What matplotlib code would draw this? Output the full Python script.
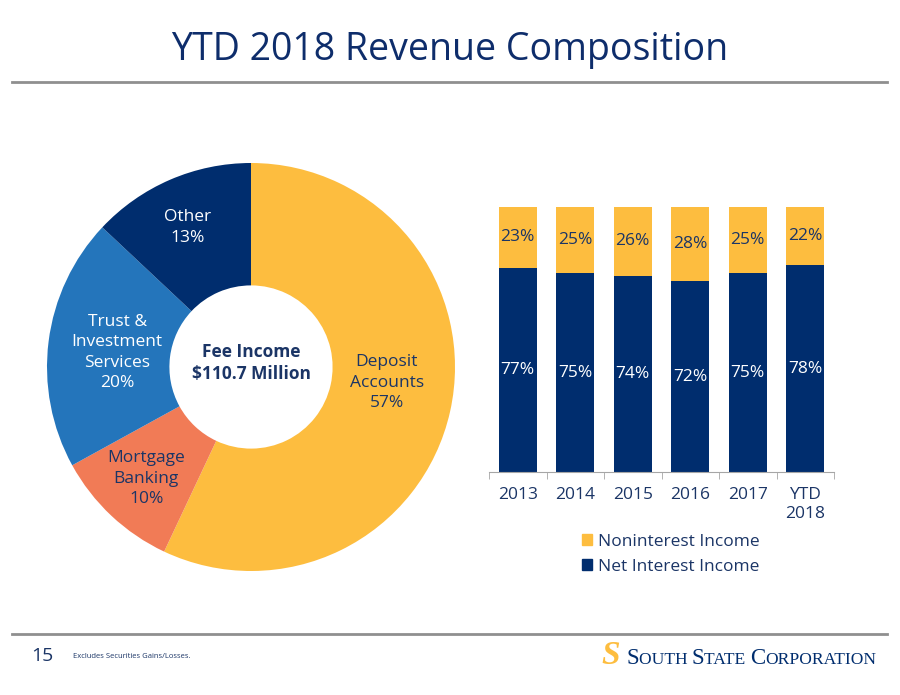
import numpy as np
import matplotlib.pyplot as plt
from matplotlib.patches import Patch

plt.rcParams['font.family'] = ['Open Sans', 'DejaVu Sans']

# fee income split (donut)
fee_labels = ['Deposit\nAccounts\n57%', 'Mortgage\nBanking\n10%',
              'Trust &\nInvestment\nServices\n20%', 'Other\n13%']
fee_values = [57, 10, 20, 13]

# revenue mix by year (stacked bars)
years = ['2013', '2014', '2015', '2016', '2017', 'YTD\n2018']
net_interest = [77, 75, 74, 72, 75, 78]
noninterest = [23, 25, 26, 28, 25, 22]

GOLD = '#FDBD3F'
NAVY = '#002D6E'
BLUE = '#2475BB'
SALMON = '#F17B56'
TXT = '#1B3566'
GRAY = '#8F8F8F'

W, H = 900, 695
fig = plt.figure(figsize=(W / 100, H / 100), dpi=100)


def px(x, y):
    # pixel position (from top-left) to figure fraction
    return x / W, 1 - y / H


# title and rules
fig.text(*px(450, 50), 'YTD 2018 Revenue Composition', ha='center', va='center',
         fontsize=27, color='#0E2D6B')
fig.add_artist(plt.Line2D([12 / W, 887 / W], [1 - 82 / H] * 2, color=GRAY, lw=2))
fig.add_artist(plt.Line2D([12 / W, 887 / W], [1 - 634 / H] * 2, color=GRAY, lw=2))

# donut
cx, cy, r = 251, 367, 204
ax1 = fig.add_axes([(cx - r) / W, (H - cy - r) / H, 2 * r / W, 2 * r / H])
wedges, _ = ax1.pie(fee_values, colors=[GOLD, SALMON, BLUE, NAVY], startangle=90,
                    counterclock=False, radius=1,
                    wedgeprops=dict(width=0.6, edgecolor='none'))
ax1.set_xlim(-1, 1)
ax1.set_ylim(-1, 1)
ax1.set_aspect('equal')
ax1.axis('off')

label_cols = [TXT, TXT, 'white', 'white']
label_dist = [0.67, 0.75, 0.66, 0.75]
label_turn = [6, 0, 1, 1]  # small angular nudges, degrees
for w, lab, c, d, t in zip(wedges, fee_labels, label_cols, label_dist, label_turn):
    ang = np.deg2rad((w.theta1 + w.theta2) / 2 + t)
    ax1.text(d * np.cos(ang), d * np.sin(ang), lab, ha='center', va='center',
             color=c, fontsize=12.5, linespacing=1.38)
ax1.text(0, 0.02, 'Fee Income\n$110.7 Million', ha='center', va='center',
         color=TXT, fontsize=12.5, fontweight='bold', linespacing=1.3)

# stacked bars
ax2 = fig.add_axes([489 / W, (H - 472) / H, 345 / W, 265 / H])
x = np.arange(len(years))
ax2.bar(x, net_interest, width=0.66, color=NAVY)
ax2.bar(x, noninterest, width=0.66, bottom=net_interest, color=GOLD)
for i in range(len(years)):
    ax2.text(x[i], net_interest[i] / 2, f'{net_interest[i]}%', ha='center', va='center',
             color='white', fontsize=12.5)
    ax2.text(x[i], net_interest[i] + noninterest[i] / 2, f'{noninterest[i]}%',
             ha='center', va='center', color=TXT, fontsize=12.5)
ax2.set_xlim(-0.5, len(years) - 0.5)
ax2.set_ylim(0, 100)
for s in ['top', 'right', 'left']:
    ax2.spines[s].set_visible(False)
ax2.spines['bottom'].set_color('#A6A6A6')
ax2.set_yticks([])
ax2.set_xticks(x)
ax2.set_xticklabels(years, color=TXT, fontsize=12.5, linespacing=1.25)
ax2.tick_params(axis='x', which='major', length=0, pad=11)
ax2.set_xticks(np.arange(-0.5, len(years)), minor=True)
ax2.tick_params(axis='x', which='minor', length=5, color='#A6A6A6')

fig.legend(handles=[Patch(color=GOLD, label='Noninterest Income'),
                    Patch(color=NAVY, label='Net Interest Income')],
           loc='upper left', bbox_to_anchor=px(575, 527), frameon=False,
           handlelength=0.6, handleheight=0.6, handletextpad=0.35,
           labelspacing=0.5, fontsize=12.5, labelcolor=TXT, borderaxespad=0)

# footer
fig.text(*px(42, 656), '15', ha='center', va='center', fontsize=14, color=TXT)
fig.text(*px(73, 657), 'Excludes Securities Gains/Losses.', ha='left', va='center',
         fontsize=5.5, color=TXT)
fig.text(*px(611, 655), 'S', ha='center', va='center', fontsize=24, color=GOLD,
         fontweight='bold', style='italic', family='Liberation Serif')

# logo wordmark in small caps
fig.canvas.draw()
rend = fig.canvas.get_renderer()
xpos = 626
for big, small in [('S', 'OUTH '), ('S', 'TATE '), ('C', 'ORPORATION')]:
    for piece, fs in [(big, 16.5), (small, 12.6)]:
        t = fig.text(*px(xpos, 664), piece, ha='left', va='baseline', fontsize=fs,
                     color=NAVY, family='Liberation Serif')
        bb = t.get_window_extent(renderer=rend)
        xpos += bb.width

fig.savefig('out.png', dpi=100)
